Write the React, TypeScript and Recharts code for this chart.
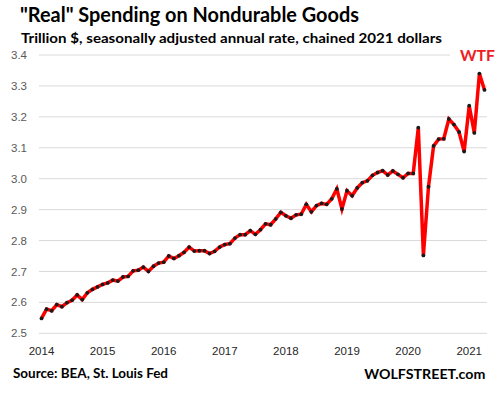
import React from 'react';
import { LineChart, Line, XAxis, YAxis, CartesianGrid } from 'recharts';

// monthly, Jan 2014 .. Apr 2021, trillion $
const spending = [
  2.548, 2.578, 2.573, 2.593, 2.586, 2.599, 2.607, 2.624, 2.609, 2.631, 2.642, 2.65,
  2.658, 2.663, 2.672, 2.669, 2.682, 2.684, 2.702, 2.704, 2.714, 2.7, 2.717, 2.727,
  2.73, 2.75, 2.742, 2.751, 2.762, 2.779, 2.766, 2.767, 2.767, 2.758, 2.765, 2.779,
  2.787, 2.79, 2.808, 2.819, 2.819, 2.832, 2.82, 2.835, 2.854, 2.851, 2.87, 2.891,
  2.88, 2.872, 2.883, 2.885, 2.917, 2.893, 2.913, 2.92, 2.917, 2.935, 2.967, 2.902,
  2.961, 2.945, 2.97, 2.987, 2.993, 3.011, 3.02, 3.026, 3.012, 3.025, 3.014, 3.003,
  3.017, 3.017, 3.165, 2.752, 2.974, 3.106, 3.128, 3.129, 3.193, 3.175, 3.151, 3.088,
  3.236, 3.148, 3.34, 3.287,
];

const yearLabels = ['2014', '2015', '2016', '2017', '2018', '2019', '2020', '2021'];
const yTicks = [2.5, 2.6, 2.7, 2.8, 2.9, 3.0, 3.1, 3.2, 3.3, 3.4];

const firstYear = 2014;
const data = spending.map((value, i) => {
  const year = firstYear + Math.floor(i / 12);
  const month = (i % 12) + 1;
  return { month: `${year}-${month.toString().padStart(2, '0')}`, value };
});

const W = 499;
const H = 397;

const Dot = (props: any) => {
  const { cx, cy } = props;
  if (cx == null || cy == null) return null;
  return <circle cx={cx} cy={cy} r={1.9} fill="#1a1a1a" />;
};

export default function App() {
  return (
    <div
      style={{
        position: 'absolute',
        left: 0,
        top: 0,
        width: W,
        height: H,
        background: '#fff',
      }}
    >
      <LineChart
        width={W}
        height={H}
        data={data}
        margin={{ top: 55, right: 12, bottom: 0, left: 0 }}
      >
        <CartesianGrid vertical={false} stroke="#d9d9d9" strokeWidth={1} />
        <XAxis
          dataKey="month"
          ticks={yearLabels.map((y) => `${y}-01`)}
          tickFormatter={(v: string) => v.slice(0, 4)}
          interval={0}
          axisLine={false}
          tickLine={false}
          tickSize={0}
          tickMargin={14}
          height={63.7}
          padding={{ left: 2.5, right: 2.5 }}
          tick={{ fill: '#262626', fontSize: 11.5, fontFamily: 'Liberation Sans' }}
        />
        <YAxis
          domain={[2.5, 3.4]}
          ticks={yTicks}
          tickFormatter={(v: number) => v.toFixed(1)}
          axisLine={false}
          tickLine={false}
          tickSize={0}
          tickMargin={12}
          width={39}
          tick={{ fill: '#595959', fontSize: 11.5, fontFamily: 'Liberation Sans' }}
        />
        <Line
          type="linear"
          dataKey="value"
          stroke="#ff0000"
          strokeWidth={3.5}
          dot={<Dot />}
          activeDot={false}
          isAnimationActive={false}
        />
      </LineChart>
      <svg
        width={W}
        height={H}
        style={{ position: 'absolute', left: 0, top: 0, pointerEvents: 'none' }}
      >
        <text
          x={20}
          y={22}
          fontFamily="Lato"
          fontWeight="bold"
          fontSize={20}
          fill="#000"
          textLength={339}
          lengthAdjust="spacingAndGlyphs"
        >
          "Real" Spending on Nondurable Goods
        </text>
        <text
          x={21}
          y={42.5}
          fontFamily="Lato"
          fontWeight="bold"
          fontSize={14}
          fill="#000"
          textLength={421}
          lengthAdjust="spacingAndGlyphs"
        >
          Trillion $, seasonally adjusted annual rate, chained 2021 dollars
        </text>
        <rect x={450} y={47} width={49} height={16} fill="#fff" />
        <text
          x={460}
          y={60.7}
          fontFamily="Lato"
          fontWeight="bold"
          fontSize={16}
          fill="#ee1c25"
          textLength={35}
          lengthAdjust="spacingAndGlyphs"
        >
          WTF
        </text>
        <text
          x={13}
          y={378.3}
          fontFamily="Lato"
          fontWeight="bold"
          fontSize={14}
          fill="#000"
          textLength={155}
          lengthAdjust="spacingAndGlyphs"
        >
          Source: BEA, St. Louis Fed
        </text>
        <text
          x={364.3}
          y={378.7}
          fontFamily="Lato"
          fontWeight="bold"
          fontSize={14}
          fill="#000"
          textLength={121}
          lengthAdjust="spacingAndGlyphs"
        >
          WOLFSTREET.com
        </text>
      </svg>
    </div>
  );
}
